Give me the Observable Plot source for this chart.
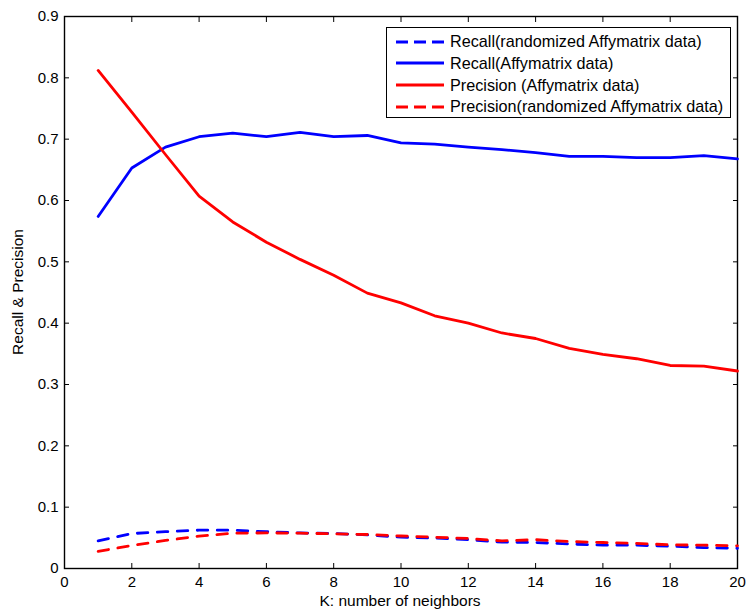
<!DOCTYPE html>
<html>
<head>
<meta charset="utf-8">
<script src="https://cdn.jsdelivr.net/npm/d3@7"></script>
<script src="https://cdn.jsdelivr.net/npm/@observablehq/plot@0.6"></script>
<style>
  html, body { margin: 0; padding: 0; background: #fff; }
  #wrap { position: relative; width: 747px; height: 610px; font-family: "Liberation Sans", Arial, sans-serif; }
  #legend { position: absolute; left: 386px; top: 27px; width: 345px; height: 91px; border: 1px solid #000; background: #fff; box-sizing: border-box; }
  .row { position: absolute; left: 0; height: 20px; display: flex; align-items: center; font-size: 16.2px; color: #000; white-space: nowrap; }
  .row svg { margin-left: 9px; margin-right: 6px; }
</style>
</head>
<body>
<div id="wrap"></div>
<script>
const k = [1,2,3,4,5,6,7,8,9,10,11,12,13,14,15,16,17,18,19,20];
const recall = [0.574,0.653,0.687,0.704,0.710,0.704,0.711,0.704,0.706,0.694,0.692,0.687,0.683,0.678,0.672,0.672,0.670,0.670,0.673,0.668];
const precision = [0.812,0.744,0.675,0.607,0.565,0.532,0.504,0.478,0.449,0.433,0.412,0.400,0.384,0.375,0.359,0.349,0.342,0.331,0.330,0.322];
const recallRand = [0.045,0.057,0.060,0.0625,0.0625,0.060,0.058,0.057,0.055,0.051,0.0497,0.047,0.043,0.0424,0.040,0.038,0.038,0.0364,0.034,0.033];
const precisionRand = [0.028,0.0375,0.0457,0.0527,0.0576,0.058,0.0576,0.0565,0.0554,0.053,0.051,0.049,0.045,0.047,0.044,0.0424,0.041,0.0386,0.038,0.037];
const xTicks = [0,2,4,6,8,10,12,14,16,18,20];
const yTicks = [0,0.1,0.2,0.3,0.4,0.5,0.6,0.7,0.8,0.9];

const seriesNames = [
  "Recall(randomized Affymatrix data)",
  "Recall(Affymatrix data)",
  "Precision (Affymatrix data)",
  "Precision(randomized Affymatrix data)"
];
const seriesValues = [recallRand, recall, precision, precisionRand];
const seriesColor = ["#0000ff", "#0000ff", "#ff0000", "#ff0000"];
const seriesDash = [true, false, false, true];

const rows = seriesNames.flatMap((name, i) => k.map((kk, j) => ({series: name, k: kk, v: seriesValues[i][j]})));

const font = "Liberation Sans, Arial, sans-serif";
const marks = [
  Plot.frame({stroke: "#000", strokeWidth: 1.4}),
  Plot.axisX(xTicks, {anchor: "bottom", tickSize: 0, tickPadding: 8, fontSize: 15, label: null}),
  Plot.axisX(xTicks, {anchor: "bottom", tickSize: -5, text: null, label: null}),
  Plot.axisX(xTicks, {anchor: "top", tickSize: -5, text: null, label: null}),
  Plot.axisY(yTicks, {anchor: "left", tickSize: 0, tickPadding: 6, fontSize: 15, tickFormat: d => String(d), label: null}),
  Plot.axisY(yTicks, {anchor: "left", tickSize: -5, text: null, label: null}),
  Plot.axisY(yTicks, {anchor: "right", tickSize: -5, text: null, label: null})
];
seriesNames.forEach((name, i) => {
  marks.push(Plot.line(rows.filter(d => d.series === name), {
    x: "k", y: "v", stroke: seriesColor[i], strokeWidth: 2.8,
    strokeDasharray: seriesDash[i] ? "10.5,9.5" : null
  }));
});

const chart = Plot.plot({
  width: 747,
  height: 610,
  marginLeft: 64,
  marginRight: 10,
  marginTop: 16,
  marginBottom: 42,
  style: {fontFamily: font, fontSize: "15px", color: "#000", background: "#fff"},
  x: {domain: [0, 20]},
  y: {domain: [0, 0.9]},
  marks
});
const wrap = document.getElementById("wrap");
wrap.appendChild(chart);

// axis titles added with d3 onto the chart's svg
const svg = d3.select(chart);
svg.append("text")
  .attr("x", 400).attr("y", 606)
  .attr("text-anchor", "middle")
  .attr("font-family", font).attr("font-size", 15.5).attr("fill", "#000")
  .text("K: number of neighbors");
svg.append("text")
  .attr("transform", "translate(23,292) rotate(-90)")
  .attr("text-anchor", "middle")
  .attr("font-family", font).attr("font-size", 15.5).attr("fill", "#000")
  .text("Recall & Precision");

// legend overlay
const legend = document.createElement("div");
legend.id = "legend";
seriesNames.forEach((name, i) => {
  const row = document.createElement("div");
  row.className = "row";
  row.style.top = (3.5 + i * 21.8) + "px";
  row.innerHTML = `<svg width="48" height="6"><line x1="0" y1="3" x2="48" y2="3" stroke="${seriesColor[i]}" stroke-width="2.8" ${seriesDash[i] ? 'stroke-dasharray="12,6"' : ''}/></svg><span>${name}</span>`;
  legend.appendChild(row);
});
wrap.appendChild(legend);
</script>
</body>
</html>
